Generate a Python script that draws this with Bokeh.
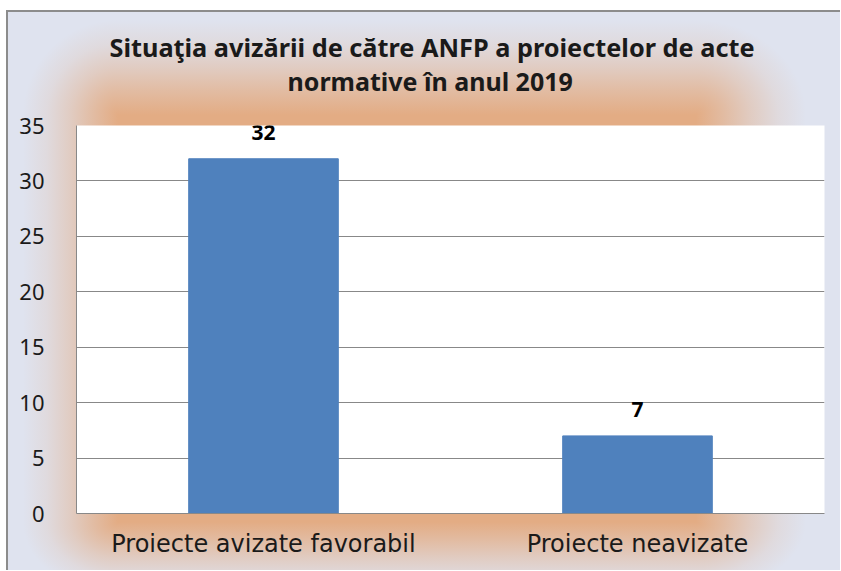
from bokeh.plotting import figure
from bokeh.models import ColumnDataSource, LabelSet, FixedTicker, Title
from bokeh.core.properties import value
from bokeh.embed import file_html
from bokeh.resources import INLINE

categories = ["Proiecte avizate favorabil", "Proiecte neavizate"]
values = [32, 7]
y_ticks = [0, 5, 10, 15, 20, 25, 30, 35]
title_line1 = "Situaţia avizării de către ANFP a proiectelor de acte"
title_line2 = "normative în anul 2019"

FONT = "Noto Sans"
XFONT = "DejaVu Sans"

source = ColumnDataSource(data=dict(cat=categories, val=values, lbl=[str(v) for v in values]))

p = figure(
    x_range=categories, y_range=(0, 35),
    width=834, height=560,
    min_border_left=70, min_border_right=16, min_border_top=115, min_border_bottom=57,
    output_backend="svg", toolbar_location=None,
)

# soft orange glow around the plot area (9-slice of CSS gradients)
OR = "227,172,132"
STOPS = (f"rgba({OR},1) 0%, rgba({OR},0.72) 25%, rgba({OR},0.42) 50%, "
         f"rgba({OR},0.16) 75%, rgba({OR},0) 100%")
def fade(direction):
    return f"linear-gradient({direction}, {STOPS})"
def corner(fx, fy, at):
    return f"radial-gradient({fx}px {fy}px at {at}, {STOPS})"

x0, x1, y0, y1 = 112, 690, 105, 512
fl, fr, ft, fb = 95, 110, 95, 72
layers = [
    (f"linear-gradient(rgba({OR},1), rgba({OR},1))", x0, y0, x1 - x0, y1 - y0),
    (fade("to top"), x0, y0 - ft, x1 - x0, ft),
    (fade("to bottom"), x0, y1, x1 - x0, fb),
    (fade("to left"), x0 - fl, y0, fl, y1 - y0),
    (fade("to right"), x1, y0, fr, y1 - y0),
    (corner(fl, ft, "100% 100%"), x0 - fl, y0 - ft, fl, ft),
    (corner(fr, ft, "0% 100%"), x1, y0 - ft, fr, ft),
    (corner(fl, fb, "100% 0%"), x0 - fl, y1, fl, fb),
    (corner(fr, fb, "0% 0%"), x1, y1, fr, fb),
]
p.styles = {
    "background-color": "#dfe3ef",
    "background-image": ", ".join(l[0] for l in layers),
    "background-position": ", ".join(f"{l[1]}px {l[2]}px" for l in layers),
    "background-size": ", ".join(f"{l[3]}px {l[4]}px" for l in layers),
    "background-repeat": "no-repeat",
    "box-shadow": "inset 2px 2px 0 0 #8c8c8c",
    "margin-left": "6px",
    "margin-top": "10px",
}
p.border_fill_alpha = 0
p.background_fill_color = "white"
p.outline_line_color = None

p.vbar(x="cat", top="val", width=0.4, source=source, color="#4f81bd")

labels = LabelSet(x="cat", y="val", text="lbl", source=source, y_offset=19,
                  text_align="center", text_baseline="alphabetic",
                  text_font=value(FONT), text_font_style="bold", text_font_size="21px",
                  text_color="black")
p.add_layout(labels)

p.title.visible = False
spacer = Title(text=" ", text_font=FONT, text_font_size="19.5px", standoff=0)
t2 = Title(text=title_line2, align="left", offset=211, standoff=-3,
           text_font=FONT, text_font_size="25px", text_font_style="bold", text_color="#1a1a1a")
t1 = Title(text=title_line1, align="left", offset=33, standoff=0,
           text_font=FONT, text_font_size="25.3px", text_font_style="bold", text_color="#1a1a1a")
p.add_layout(spacer, "above")
p.add_layout(t2, "above")
p.add_layout(t1, "above")

p.yaxis.ticker = FixedTicker(ticks=y_ticks)
p.yaxis.major_tick_line_color = None
p.yaxis.minor_tick_line_color = None
p.yaxis.axis_line_color = "#888888"
p.yaxis.major_label_standoff = 26
p.yaxis.major_label_text_font = FONT
p.yaxis.major_label_text_font_size = "22px"
p.yaxis.major_label_text_color = "#1a1a1a"

p.xaxis.major_tick_line_color = None
p.xaxis.minor_tick_line_color = None
p.xaxis.axis_line_color = "#888888"
p.xaxis.major_label_standoff = 10
p.xaxis.major_label_text_font = XFONT
p.xaxis.major_label_text_font_size = "24px"
p.xaxis.major_label_text_color = "#1a1a1a"

p.xgrid.grid_line_color = None
p.ygrid.grid_line_color = "#888888"
p.ygrid.grid_line_width = 1

open("out.html", "w").write(file_html(p, INLINE))
